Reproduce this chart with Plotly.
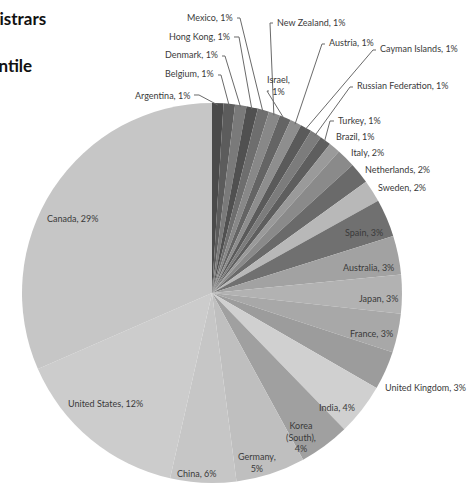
import math
import plotly.graph_objects as go

# ---------------- data (clockwise from 12 o'clock) ----------------
countries = ["Argentina", "Belgium", "Denmark", "Hong Kong", "Mexico", "New Zealand",
             "Israel", "Austria", "Cayman Islands", "Russian Federation", "Turkey", "Brazil",
             "Italy", "Netherlands", "Sweden", "Spain", "Australia", "Japan", "France",
             "United Kingdom", "India", "Korea (South)", "Germany", "China",
             "United States", "Canada"]
# slice sizes estimated from the drawn angles
share = [0.97, 0.97, 0.97, 0.97, 0.97, 0.97,
         0.97, 0.97, 0.97, 0.97, 0.97, 0.97,
         1.6, 1.8, 1.9, 3.2, 3.3, 3.3, 3.3,
         3.3, 4.4, 4.3, 5.9, 5.6,
         14.9, 31.56]
# percentages printed in the data labels
shown_pct = [1, 1, 1, 1, 1, 1,
             1, 1, 1, 1, 1, 1,
             2, 2, 2, 3, 3, 3, 3,
             3, 4, 4, 5, 6,
             12, 29]
title_lines = ["Registrars", "Percentile"]

# ---------------- styles / layout ----------------
W, H = 474, 486
CX, CY, R = 212, 293, 190

colors = ["#4a4a4a", "#5c5c5c", "#7a7a7a", "#505050", "#6e6e6e", "#888888",
          "#646464", "#8e8e8e", "#5a5a5a", "#7c7c7c", "#5e5e5e", "#9a9a9a",
          "#8a8a8a", "#6a6a6a", "#b8b8b8", "#707070", "#a2a2a2", "#b2b2b2", "#a8a8a8",
          "#9c9c9c", "#d0d0d0", "#a0a0a0", "#bfbfbf", "#c6c6c6",
          "#cccccc", "#c6c6c6"]

line_breaks = {"Germany": "Germany,<br>{p}%", "Korea (South)": "Korea<br>(South),<br>{p}%",
               "Israel": "Israel,<br>{p}%"}

# label placement: (x px, y px, xanchor, leader start or None, elbow dx)
label_pos = {
    "Argentina": (192, 95, "right", (194, 95), 5),
    "Belgium": (216, 74, "right", (218, 75), 3),
    "Denmark": (220, 55, "right", (222, 56), 3),
    "Hong Kong": (232, 36, "right", (234, 37), 5),
    "Mexico": (235, 17, "right", (237, 18), 3),
    "New Zealand": (275, 23, "left", (273, 23), -3),
    "Israel": (278, 86, "center", (269, 91), -2),
    "Austria": (327, 43, "left", (325, 44), -3),
    "Cayman Islands": (378, 48, "left", (376, 50), -3),
    "Russian Federation": (355, 86, "left", (353, 87), -3),
    "Turkey": (336, 120, "left", (334, 121), -4),
    "Brazil": (334, 136, "left", None, 0),
    "Italy": (349, 152, "left", None, 0),
    "Netherlands": (363, 169, "left", None, 0),
    "Sweden": (376, 187, "left", None, 0),
    "Spain": (364, 232, "center", None, 0),
    "Australia": (368, 267, "center", None, 0),
    "Japan": (378, 298, "center", None, 0),
    "France": (371, 333, "center", None, 0),
    "United Kingdom": (383, 387, "left", None, 0),
    "India": (337, 407, "center", None, 0),
    "Korea (South)": (301, 437, "center", None, 0),
    "Germany": (257, 462, "center", None, 0),
    "China": (196, 473, "center", None, 0),
    "United States": (105, 403, "center", None, 0),
    "Canada": (73, 218, "center", None, 0),
}

FONT = "Lato, 'Liberation Sans', Arial, sans-serif"


def px2paper(x, y):
    return x / W, 1 - y / H


fig = go.Figure(go.Pie(
    labels=countries, values=share, sort=False, direction="clockwise", rotation=0,
    marker=dict(colors=colors, line=dict(width=0)),
    textinfo="none", hoverinfo="label+percent", showlegend=False,
    domain=dict(x=[(CX - R) / W, (CX + R) / W], y=[(H - CY - R) / H, (H - CY + R) / H]),
))

total = sum(share)
cum = 0.0
annotations = []
shapes = []
for name, v, p in zip(countries, share, shown_pct):
    mid = (cum + v / 2) / total * 2 * math.pi
    cum += v
    lx, ly, anchor, lead, elbow = label_pos[name]
    text = line_breaks.get(name, "{n}, {p}%").format(n=name, p=p)
    ax_, ay_ = px2paper(lx, ly)
    annotations.append(dict(x=ax_, y=ay_, xref="paper", yref="paper", text=text,
                            showarrow=False, xanchor=anchor, yanchor="middle",
                            font=dict(family=FONT, size=9, color="#3a3a3a"),
                            align="center"))
    if lead is not None:
        hx = CX + R * 0.99 * math.sin(mid)
        hy = CY - R * 0.99 * math.cos(mid)
        sx, sy = lead
        pts = [(sx, sy), (sx + elbow, sy), (hx, hy)]
        path = "M " + " L ".join(f"{px2paper(a, b)[0]:.5f},{px2paper(a, b)[1]:.5f}" for a, b in pts)
        shapes.append(dict(type="path", path=path, xref="paper", yref="paper",
                           line=dict(color="#6a6a6a", width=1)))

for txt, ty, rx in zip(title_lines, [19, 65], [48, 34]):
    tx, tyy = px2paper(rx, ty)
    annotations.append(dict(x=tx, y=tyy, xref="paper", yref="paper", text=f"<b>{txt}</b>",
                            showarrow=False, xanchor="right", yanchor="middle",
                            font=dict(family=FONT, size=17, color="#111111")))

fig.update_layout(width=W, height=H, margin=dict(l=0, r=0, t=0, b=0),
                  paper_bgcolor="white", plot_bgcolor="white",
                  annotations=annotations, shapes=shapes)

fig.write_html("out.html", config={"displayModeBar": False},
               post_script="document.body.style.margin='0';document.body.style.padding='0';"
                           "document.body.style.overflow='hidden';")
